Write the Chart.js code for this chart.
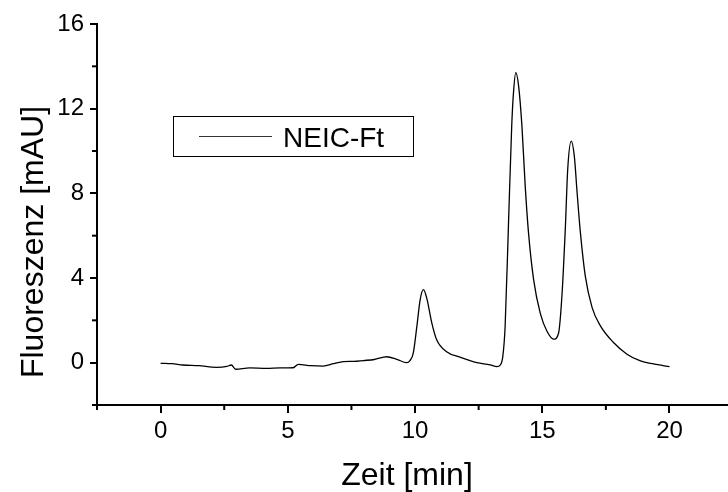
<!DOCTYPE html>
<html>
<head>
<meta charset="utf-8">
<script src="https://cdn.jsdelivr.net/npm/chart.js@4/dist/chart.umd.min.js"></script>
<style>
  html, body { margin: 0; padding: 0; background: #fff; overflow: hidden; }
  #wrap { width: 728px; height: 492px; position: relative; }
</style>
</head>
<body>
<div id="wrap"><canvas id="c" width="728" height="492"></canvas></div>
<script>
// ---- data ----
const seriesLabel = "NEIC-Ft";
const timeMin = [0, 0.45, 0.88, 1.5, 2.19, 2.6, 2.78, 2.95, 3.5, 4.16, 4.7, 5.21, 5.41, 5.9, 6.39, 6.8, 7.18, 7.6, 7.97, 8.4, 8.89, 9.28, 9.67, 9.8, 9.93, 10.07, 10.2, 10.33, 10.46, 10.66, 10.85, 11.24, 11.77, 12.43, 12.95, 13.22, 13.35, 13.45, 13.54, 13.67, 13.8, 13.87, 13.96, 14.07, 14.2, 14.33, 14.46, 14.66, 14.92, 15.19, 15.45, 15.64, 15.78, 15.91, 16.0, 16.14, 16.26, 16.37, 16.5, 16.69, 16.96, 17.28, 17.8, 18.33, 18.86, 19.38, 20.0];
const fluorescence = [-0.03, -0.05, -0.11, -0.14, -0.22, -0.18, -0.11, -0.31, -0.25, -0.27, -0.25, -0.24, -0.08, -0.14, -0.16, -0.05, 0.05, 0.06, 0.1, 0.15, 0.28, 0.16, 0.0, 0.1, 0.45, 1.7, 2.97, 3.45, 3.05, 1.87, 1.08, 0.52, 0.26, 0.0, -0.1, -0.19, -0.11, 0.3, 1.7, 6.45, 11.2, 12.77, 13.7, 13.08, 11.2, 8.34, 6.13, 3.92, 2.34, 1.47, 1.11, 1.39, 3.29, 6.45, 9.13, 10.47, 9.76, 8.03, 6.13, 4.1, 2.6, 1.75, 0.95, 0.4, 0.08, -0.06, -0.19];
const xMajorTicks = [0, 5, 10, 15, 20];
const xMinorTicks = [-2.5, 2.5, 7.5, 12.5, 17.5];
const yMajorTicks = [0, 4, 8, 12, 16];
const yMinorTicks = [-2, 2, 6, 10, 14];
const xTitle = "Zeit [min]";
const yTitle = "Fluoreszenz [mAU]";

const FONT = "'Liberation Sans', Arial, Helvetica, sans-serif";

const points = timeMin.map((t, i) => ({ x: t, y: fluorescence[i] }));

const decorPlugin = {
  id: 'decor',
  afterDraw(chart) {
    const ctx = chart.ctx;
    const xs = chart.scales.x, ys = chart.scales.y;
    ctx.save();
    ctx.strokeStyle = '#000';
    ctx.lineWidth = 2;
    // minor ticks
    xMinorTicks.forEach(v => {
      const px = xs.getPixelForValue(v);
      ctx.beginPath();
      ctx.moveTo(px, xs.top);
      ctx.lineTo(px, xs.top + 5);
      ctx.stroke();
    });
    yMinorTicks.forEach(v => {
      const py = ys.getPixelForValue(v);
      ctx.beginPath();
      ctx.moveTo(ys.right, py);
      ctx.lineTo(ys.right - 5, py);
      ctx.stroke();
    });
    // y axis title
    ctx.fillStyle = '#000';
    ctx.font = "32px " + FONT;
    ctx.textAlign = 'center';
    ctx.textBaseline = 'alphabetic';
    ctx.translate(43, 242);
    ctx.rotate(-Math.PI / 2);
    ctx.fillText(yTitle, 0, 0);
    ctx.restore();

    // x axis title
    ctx.save();
    ctx.fillStyle = '#000';
    ctx.font = "32px " + FONT;
    ctx.textAlign = 'center';
    ctx.textBaseline = 'alphabetic';
    ctx.fillText(xTitle, 407, 485);
    ctx.restore();

    // legend box
    ctx.save();
    ctx.strokeStyle = '#000';
    ctx.lineWidth = 1;
    ctx.strokeRect(173.5, 116.5, 240, 40);
    ctx.beginPath();
    ctx.moveTo(199, 136.5);
    ctx.lineTo(272, 136.5);
    ctx.strokeStyle = '#333';
    ctx.stroke();
    ctx.fillStyle = '#000';
    ctx.font = "28px " + FONT;
    ctx.textAlign = 'left';
    ctx.textBaseline = 'alphabetic';
    ctx.fillText(chart.data.datasets[0].label, 283, 147);
    ctx.restore();
  }
};

new Chart(document.getElementById('c'), {
  type: 'line',
  data: {
    datasets: [{
      label: seriesLabel,
      data: points,
      borderColor: '#000',
      borderWidth: 1.3,
      pointRadius: 0,
      fill: false,
      cubicInterpolationMode: 'monotone'
    }]
  },
  options: {
    responsive: false,
    animation: false,
    events: [],
    layout: { padding: { top: 24, right: 0, left: 0, bottom: 0 } },
    plugins: { legend: { display: false }, tooltip: { enabled: false } },
    scales: {
      x: {
        type: 'linear',
        min: -2.5,
        max: 22.3,
        afterBuildTicks: s => { s.ticks = xMajorTicks.map(v => ({ value: v })); },
        afterFit: s => { s.height = 87; },
        grid: { display: true, drawOnChartArea: false, drawTicks: true, tickLength: 8, color: '#000', lineWidth: 2 },
        border: { display: true, color: '#000', width: 2 },
        ticks: { color: '#000', font: { family: FONT, size: 24 }, padding: 4, maxRotation: 0, autoSkip: false },
        title: { display: false }
      },
      y: {
        type: 'linear',
        min: -2,
        max: 16,
        afterBuildTicks: s => { s.ticks = yMajorTicks.map(v => ({ value: v })); },
        afterFit: s => { s.width = 97; },
        grid: { display: true, drawOnChartArea: false, drawTicks: true, tickLength: 7, color: '#000', lineWidth: 2 },
        border: { display: true, color: '#000', width: 2 },
        ticks: { color: '#000', font: { family: FONT, size: 24 }, padding: 6, autoSkip: false },
        title: { display: false }
      }
    }
  },
  plugins: [decorPlugin]
});
</script>
</body>
</html>
